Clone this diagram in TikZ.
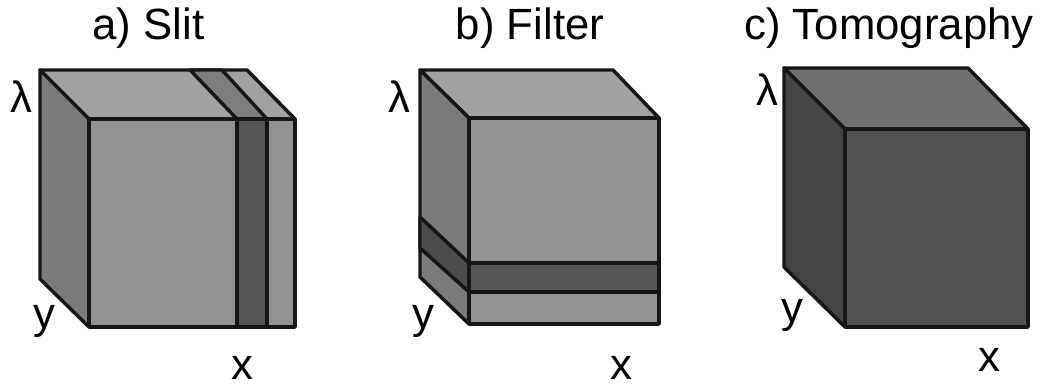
\documentclass[tikz,border=0pt]{standalone}
\usepackage{fontspec}
\setmainfont{Liberation Sans}
\definecolor{topL}{HTML}{A2A2A2}
\definecolor{sideL}{HTML}{7B7B7B}
\definecolor{frontL}{HTML}{929292}
\definecolor{bandD}{HTML}{555555}
\definecolor{bandT}{HTML}{7D7D7D}
\definecolor{bandS}{HTML}{4C4C4C}
\definecolor{topD}{HTML}{707070}
\definecolor{sideD}{HTML}{444444}
\definecolor{frontD}{HTML}{525252}
\definecolor{edge}{HTML}{161616}
\tikzset{
  face/.style={draw=edge,line width=2.6pt,line join=round},
  lab/.style={font=\fontsize{32.8}{34}\selectfont,text=black,inner sep=0pt,anchor=base},
}
\begin{document}
\begin{tikzpicture}[x=0.75pt,y=-0.75pt]
\useasboundingbox (0,0) rectangle (1047,385);
\fill[white] (0,0) rectangle (1047,385);
% a) Slit
\draw[face,fill=topL] (40,70) -- (247,70) -- (295,119) -- (89,119) -- cycle;
\draw[face,fill=bandT] (190,70) -- (222,70) -- (267,119) -- (237,119) -- cycle;
\draw[face,fill=sideL] (40,70) -- (89,119) -- (89,327) -- (40,279) -- cycle;
\draw[face,fill=frontL] (89,119) rectangle (295,327);
\draw[face,fill=bandD] (237,119) rectangle (267,327);
% b) Filter
\draw[face,fill=topL] (420,70) -- (613,70) -- (659,118) -- (469,118) -- cycle;
\draw[face,fill=sideL] (420,70) -- (469,118) -- (469,324) -- (420,277) -- cycle;
\draw[face,fill=bandS] (420,217) -- (469,263) -- (469,292) -- (420,248) -- cycle;
\draw[face,fill=frontL] (469,118) rectangle (659,324);
\draw[face,fill=bandD] (469,263) rectangle (659,292);
% c) Tomography
\draw[face,fill=topD] (784,68) -- (968,68) -- (1028,129) -- (845,129) -- cycle;
\draw[face,fill=sideD] (784,68) -- (845,129) -- (845,327) -- (784,267) -- cycle;
\draw[face,fill=frontD] (845,129) rectangle (1028,327);
% labels
\node[lab] (ta) at (148.5,40) {a) Slit};
\node[lab] (tb) at (530,40) {b) Filter};
\node[lab] (tc) at (889,40) {c) Tomography};
\node[lab] (la) at (21,113) {λ};
\node[lab] (lb) at (399,113) {λ};
\node[lab] (lc) at (767,106) {λ};
\node[lab] (ya) at (44,328) {y};
\node[lab] (yb) at (423,328) {y};
\node[lab] (yc) at (792,322) {y};
\node[lab] (xa) at (242,379) {x};
\node[lab] (xb) at (621,379) {x};
\node[lab] (xc) at (989,371) {x};
\end{tikzpicture}
\end{document}
